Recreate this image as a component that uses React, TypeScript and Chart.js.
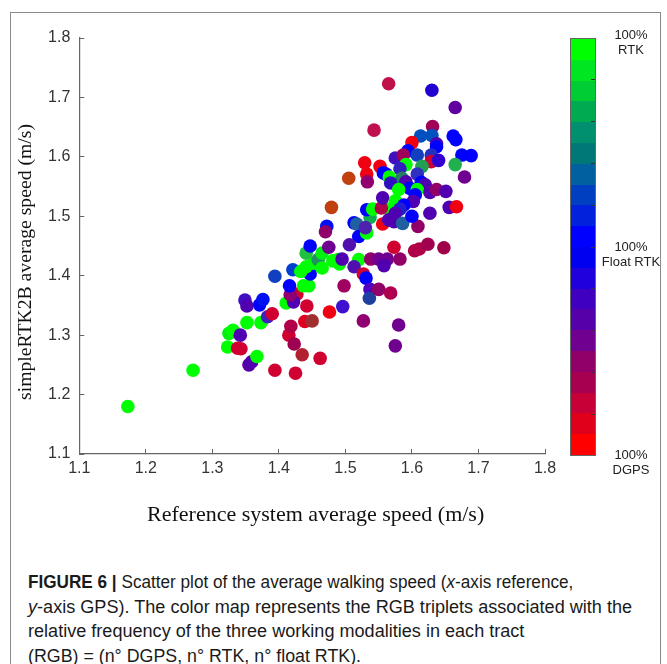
import React, { useEffect, useRef } from "react";
import { Chart, registerables } from "chart.js";

Chart.register(...registerables);

// ---- Data ----
const xTicks = [1.1, 1.2, 1.3, 1.4, 1.5, 1.6, 1.7, 1.8];
const yTicks = [1.1, 1.2, 1.3, 1.4, 1.5, 1.6, 1.7, 1.8];

const xTitle = "Reference system average speed (m/s)";
const yTitle = "simpleRTK2B average speed (m/s)";

// Reference system average speed (x)
const refSpeed = [
  1.173, 1.271, 1.325, 1.331, 1.342, 1.323, 1.338, 1.343, 1.352, 1.355,
  1.359, 1.367, 1.373, 1.371, 1.349, 1.352, 1.376, 1.383, 1.390, 1.394,
  1.425, 1.411, 1.415, 1.423, 1.418, 1.435, 1.439, 1.442, 1.462, 1.450,
  1.476, 1.496, 1.498, 1.427, 1.422, 1.417, 1.416, 1.437, 1.445, 1.394,
  1.421, 1.447, 1.433, 1.441, 1.452, 1.459, 1.465, 1.465, 1.441, 1.447,
  1.475, 1.481, 1.489, 1.491, 1.495, 1.520, 1.513, 1.527, 1.531, 1.537,
  1.536, 1.550, 1.568, 1.527, 1.575, 1.580, 1.538, 1.550, 1.563, 1.582,
  1.558, 1.573, 1.479, 1.472, 1.470, 1.513, 1.517, 1.520, 1.532, 1.537,
  1.506, 1.532, 1.541, 1.556, 1.566, 1.530, 1.554, 1.556, 1.565, 1.543,
  1.529, 1.532, 1.533, 1.505, 1.552, 1.557, 1.630, 1.665, 1.631, 1.613,
  1.630, 1.662, 1.666, 1.600, 1.637, 1.637, 1.594, 1.575, 1.587, 1.608,
  1.629, 1.629, 1.640, 1.675, 1.689, 1.665, 1.679, 1.561, 1.591, 1.615,
  1.582, 1.608, 1.566, 1.585, 1.591, 1.568, 1.597, 1.614, 1.620, 1.580,
  1.608, 1.605, 1.627, 1.637, 1.651, 1.602, 1.575, 1.588, 1.582, 1.575,
  1.565, 1.573, 1.586, 1.609, 1.600, 1.627, 1.656, 1.667, 1.604, 1.611,
  1.624, 1.648,
];

// simpleRTK2B average speed (y)
const gpsSpeed = [
  1.180, 1.241, 1.303, 1.308, 1.300, 1.280, 1.278, 1.277, 1.321, 1.250,
  1.255, 1.264, 1.321, 1.351, 1.359, 1.349, 1.360, 1.331, 1.336, 1.241,
  1.236, 1.354, 1.300, 1.285, 1.315, 1.267, 1.323, 1.349, 1.261, 1.324,
  1.339, 1.348, 1.383, 1.369, 1.356, 1.368, 1.383, 1.383, 1.383, 1.399,
  1.410, 1.403, 1.407, 1.415, 1.421, 1.427, 1.413, 1.438, 1.438, 1.450,
  1.448, 1.425, 1.427, 1.420, 1.428, 1.427, 1.415, 1.403, 1.396, 1.377,
  1.362, 1.377, 1.371, 1.324, 1.282, 1.317, 1.428, 1.428, 1.428, 1.428,
  1.417, 1.448, 1.515, 1.483, 1.474, 1.489, 1.487, 1.466, 1.472, 1.498,
  1.452, 1.511, 1.512, 1.487, 1.512, 1.481, 1.514, 1.531, 1.723, 1.645,
  1.590, 1.571, 1.558, 1.564, 1.584, 1.573, 1.712, 1.683, 1.651, 1.635,
  1.636, 1.635, 1.629, 1.624, 1.622, 1.617, 1.610, 1.598, 1.603, 1.603,
  1.603, 1.592, 1.594, 1.603, 1.602, 1.587, 1.566, 1.571, 1.587, 1.584,
  1.580, 1.571, 1.566, 1.564, 1.558, 1.556, 1.547, 1.557, 1.553, 1.545,
  1.545, 1.536, 1.540, 1.545, 1.542, 1.525, 1.526, 1.519, 1.512, 1.505,
  1.494, 1.491, 1.488, 1.483, 1.500, 1.505, 1.515, 1.516, 1.442, 1.445,
  1.453, 1.447,
];

// RGB triplet (DGPS, RTK, float RTK) of each tract, as a colour
const pointColors = [
  "#00ff00", "#00ff00", "#00f010", "#00ff00", "#5000b0", "#00ff00", "#d00030", "#d00030", "#00ff00", "#5800a8",
  "#5000b0", "#00ff00", "#00ff00", "#0000ff", "#4010c0", "#5000b0", "#0010f0", "#4020c0", "#d00030", "#d00030",
  "#d00030", "#00ff00", "#d00030", "#a00050", "#b00048", "#b02030", "#e00020", "#d00030", "#d00030", "#a03030",
  "#f00010", "#4010d0", "#a00060", "#d00030", "#5000b0", "#900070", "#0000ff", "#00ff00", "#00ff00", "#1040c0",
  "#0040d0", "#0000ff", "#00ff00", "#00ff00", "#00ff00", "#209060", "#00ff00", "#00f010", "#20c040", "#0000ff",
  "#700090", "#00ff00", "#00ff00", "#00ff00", "#5000b0", "#00ff00", "#5010b0", "#d00030", "#0000ff", "#5000c0",
  "#2040a0", "#900068", "#b00050", "#900070", "#700090", "#700090", "#900068", "#700090", "#700090", "#900068",
  "#5000b0", "#d00030", "#c04010", "#0010f0", "#900068", "#0000ff", "#2060a0", "#0000ff", "#00ff00", "#10b050",
  "#5010b0", "#0000ff", "#00ff00", "#f00010", "#00ff00", "#5020b0", "#b00048", "#5000b0", "#c0104a", "#c01050",
  "#f00010", "#f00010", "#900070", "#c04010", "#f00010", "#0000ff", "#2000d0", "#6000a0", "#a00058", "#0050c0",
  "#0050c0", "#0000ff", "#0000ff", "#f00010", "#5000b0", "#0000ff", "#0000ff", "#4010c0", "#a00058", "#1040c0",
  "#2030c0", "#d00030", "#3000d0", "#0000ff", "#0000ff", "#20b050", "#700090", "#0000ff", "#00ff00", "#20a050",
  "#3020c0", "#3030c0", "#00ff00", "#208060", "#5000b0", "#3010c0", "#0000ff", "#0000ff", "#5000b0", "#00ff00",
  "#00ff00", "#0000ff", "#5000b0", "#900068", "#5000b0", "#5000b0", "#00ff00", "#0000ff", "#2020d0", "#5000b0",
  "#5000b0", "#5000b0", "#2060a0", "#900068", "#0000ff", "#5000b0", "#5000b0", "#f00010", "#b00048", "#b00048",
  "#a00050", "#a00048",
];

// colormap (top = 100% RTK, middle = 100% float RTK, bottom = 100% DGPS)
const colorbarColors = [
  "#00ff00", "#00e620", "#00cc33", "#00aa50", "#009070", "#007878", "#0060a0", "#0040c0", "#0022dd", "#0000ff",
  "#0000f0", "#2000dd", "#4000c0", "#5500a8", "#700090", "#900068", "#a80050", "#c80038", "#e0001c", "#ff0000",
];
const colorbarLabels = [
  ["100%", "RTK"],
  ["100%", "Float RTK"],
  ["100%", "DGPS"],
];

const captionLines = [
  "Scatter plot of the average walking speed (",
  "-axis GPS). The color map represents the RGB triplets associated with the",
  "relative frequency of the three working modalities in each tract",
  "(RGB) = (n\u00b0 DGPS, n\u00b0 RTK, n\u00b0 float RTK).",
];

const axisColor = "#666666";
const tickFont = { family: "'Liberation Sans', Arial, sans-serif", size: 16 };

const axisTitlesPlugin = {
  id: "axisTitles",
  afterDraw(chart: any) {
    const { ctx, chartArea } = chart;
    ctx.save();
    ctx.fillStyle = "#111111";
    ctx.textAlign = "center";
    ctx.textBaseline = "middle";
    ctx.font = "22px 'Liberation Serif', 'Times New Roman', serif";
    ctx.fillText(xTitle, (chartArea.left + chartArea.right) / 2 + 3.5, 515);
    ctx.translate(26, (chartArea.top + chartArea.bottom) / 2 + 16);
    ctx.rotate(-Math.PI / 2);
    ctx.font = "19.7px 'Liberation Serif', 'Times New Roman', serif";
    ctx.fillText(yTitle, 0, 0);
    ctx.restore();
  },
};

export default function App() {
  const ref = useRef<HTMLCanvasElement>(null);

  useEffect(() => {
    const canvas = ref.current;
    if (!canvas) return;
    const chart = new Chart(canvas, {
      type: "scatter",
      data: {
        datasets: [
          {
            data: refSpeed.map((x, i) => ({ x, y: gpsSpeed[i] })),
            pointBackgroundColor: pointColors,
            pointBorderWidth: 0,
            pointRadius: 6.8,
            pointHoverRadius: 6.8,
          },
        ],
      },
      options: {
        responsive: false,
        animation: false,
        events: [],
        layout: { padding: { left: 0, top: 38, right: 122, bottom: 0 } },
        plugins: { legend: { display: false }, tooltip: { enabled: false } },
        scales: {
          x: {
            type: "linear",
            min: 1.1,
            max: 1.8,
            afterBuildTicks: (s: any) => {
              s.ticks = xTicks.map((v) => ({ value: v }));
            },
            afterFit: (s: any) => {
              s.height = 86;
            },
            border: { display: true, color: axisColor, width: 1.2 },
            grid: { display: true, drawOnChartArea: false, drawTicks: true, tickLength: -5, color: axisColor },
            ticks: {
              font: tickFont,
              color: "#333333",
              padding: 10,
              maxRotation: 0,
              callback: (v: any) => Number(v).toFixed(1),
            },
            title: { display: false },
          },
          y: {
            type: "linear",
            min: 1.1,
            max: 1.8,
            afterBuildTicks: (s: any) => {
              s.ticks = yTicks.map((v) => ({ value: v }));
            },
            afterFit: (s: any) => {
              s.width = 79.3;
            },
            border: { display: true, color: axisColor, width: 1.2 },
            grid: { display: true, drawOnChartArea: false, drawTicks: true, tickLength: -5, color: axisColor },
            ticks: {
              font: tickFont,
              color: "#333333",
              padding: 14,
              callback: (v: any) => Number(v).toFixed(1),
            },
            title: { display: false },
          },
        },
      },
      plugins: [axisTitlesPlugin],
    });
    return () => chart.destroy();
  }, []);

  const cbTop = 38;
  const cbHeight = 418;
  const labelY = [35, 247, 455];
  const lineScale = [0.98, 1.034, 1.033, 1.018];
  const lineStyle = (i: number): React.CSSProperties => ({
    height: 24.5,
    transform: `scaleX(${lineScale[i]})`,
    transformOrigin: "left center",
  });

  return (
    <div style={{ position: "absolute", left: 0, top: 0, width: 667, height: 664, overflow: "hidden", background: "#fff" }}>
      <div
        style={{
          position: "absolute",
          left: 10,
          top: 12,
          width: 651,
          height: 700,
          border: "1.5px solid #8a8a8a",
          boxSizing: "border-box",
        }}
      />
      <canvas ref={ref} width={667} height={540} style={{ position: "absolute", left: 0, top: 0, width: 667, height: 540 }} />
      <div
        style={{
          position: "absolute",
          left: 570,
          top: cbTop,
          width: 26,
          height: cbHeight,
          border: "1px solid #666",
          boxSizing: "border-box",
          display: "flex",
          flexDirection: "column",
        }}
      >
        {colorbarColors.map((c, i) => (
          <div key={i} style={{ flex: 1, background: c }} />
        ))}
      </div>
      {[1, 2, 3, 4, 5, 6, 7, 8, 9].map((k) => (
        <div
          key={k}
          style={{
            position: "absolute",
            left: 591,
            top: cbTop + (cbHeight * k) / 10 - 0.5,
            width: 4,
            height: 1,
            background: "#333",
          }}
        />
      ))}
      {colorbarLabels.map((lines, i) => (
        <div
          key={i}
          style={{
            position: "absolute",
            left: 595,
            width: 72,
            top: labelY[i] - 8,
            textAlign: "center",
            font: "13px 'Liberation Sans', Arial, sans-serif",
            lineHeight: "15px",
            color: "#222",
          }}
        >
          {lines.map((l, j) => (
            <div key={j}>{l}</div>
          ))}
        </div>
      ))}
      <div
        style={{
          position: "absolute",
          left: 28,
          top: 570,
          width: 640,
          font: "17.5px 'Liberation Sans', Arial, sans-serif",
          lineHeight: "24.5px",
          color: "#1a1a1a",
          whiteSpace: "nowrap",
        }}
      >
        <div style={lineStyle(0)}>
          <b>FIGURE 6 |</b> {captionLines[0]}
          <i>x</i>-axis reference,
        </div>
        <div style={lineStyle(1)}>
          <i>y</i>
          {captionLines[1]}
        </div>
        <div style={lineStyle(2)}>{captionLines[2]}</div>
        <div style={lineStyle(3)}>{captionLines[3]}</div>
      </div>
    </div>
  );
}
